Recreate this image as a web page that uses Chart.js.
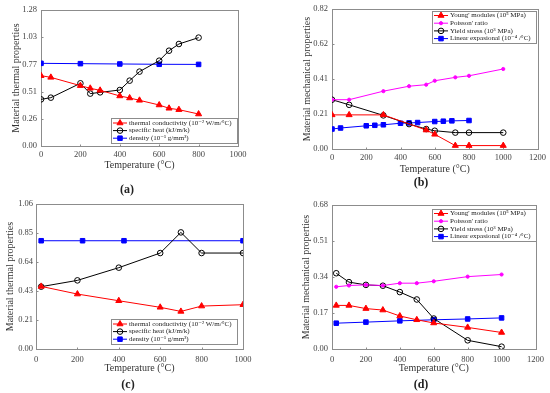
<!DOCTYPE html>
<html>
<head>
<meta charset="utf-8">
<script src="https://cdn.jsdelivr.net/npm/chart.js@4.4.0/dist/chart.umd.min.js"></script>
<style>
  body { margin: 0; background: #fff; width: 550px; height: 393px; position: relative; overflow: hidden; }
  canvas { position: absolute; }
  .tag { position: absolute; font: bold 12px "Liberation Serif", serif; color: #222; transform: translateX(-50%); }
</style>
</head>
<body>
<canvas id="chartA" width="275" height="196" style="left:0;top:0"></canvas>
<canvas id="chartB" width="275" height="196" style="left:275px;top:0"></canvas>
<canvas id="chartC" width="275" height="197" style="left:0;top:196px"></canvas>
<canvas id="chartD" width="275" height="197" style="left:275px;top:196px"></canvas>
<div class="tag" style="left:127px;top:182px">(a)</div>
<div class="tag" style="left:421px;top:175px">(b)</div>
<div class="tag" style="left:128px;top:377px">(c)</div>
<div class="tag" style="left:421px;top:377px">(d)</div>
<script>
const serif = '"Liberation Serif", "DejaVu Serif", serif';

// (a) thermal properties
const aTempTC = [0, 50, 200, 250, 300, 400, 450, 500, 600, 650, 700, 800];
const aConductivity = [0.662, 0.646, 0.568, 0.543, 0.524, 0.471, 0.452, 0.430, 0.386, 0.355, 0.342, 0.301];
const aSpecificHeat = [0.439, 0.455, 0.590, 0.493, 0.505, 0.527, 0.615, 0.700, 0.803, 0.897, 0.960, 1.020];
const aTempDensity = [0, 200, 400, 600, 800];
const aDensity = [0.778, 0.775, 0.772, 0.769, 0.768];
const aYTicks = ['0.00', '0.26', '0.51', '0.77', '1.03', '1.28'];

// (b) mechanical properties
const bTempYoung = [0, 100, 300, 550, 600, 720, 800, 1000];
const bYoung = [0.200, 0.200, 0.200, 0.111, 0.086, 0.020, 0.020, 0.020];
const bTempPY = [0, 100, 300, 450, 550, 600, 720, 800, 1000];
const bPoisson = [0.289, 0.289, 0.339, 0.368, 0.377, 0.400, 0.420, 0.429, 0.469];
const bYield = [0.289, 0.259, 0.197, 0.146, 0.117, 0.107, 0.096, 0.096, 0.096];
const bTempExp = [0, 50, 200, 250, 300, 400, 450, 500, 600, 650, 700, 800];
const bExpansion = [0.117, 0.123, 0.136, 0.139, 0.142, 0.151, 0.153, 0.155, 0.161, 0.163, 0.165, 0.167];
const bYTicks = ['0.00', '0.21', '0.41', '0.62', '0.82'];

// (c) thermal properties
const cTemp = [25, 200, 400, 600, 700, 800, 1000];
const cConductivity = [0.458, 0.402, 0.353, 0.305, 0.275, 0.314, 0.324];
const cSpecificHeat = [0.456, 0.502, 0.595, 0.702, 0.853, 0.702, 0.702];
const cTempDensity = [25, 225, 425, 1000];
const cDensity = [0.792, 0.792, 0.792, 0.792];
const cYTicks = ['0.00', '0.21', '0.43', '0.64', '0.85', '1.06'];

// (d) mechanical properties
const dTemp = [25, 100, 200, 300, 400, 500, 600, 800, 1000];
const dYoung = [0.206, 0.206, 0.191, 0.184, 0.156, 0.138, 0.123, 0.102, 0.078];
const dPoisson = [0.294, 0.300, 0.303, 0.300, 0.311, 0.311, 0.320, 0.342, 0.352];
const dYield = [0.358, 0.316, 0.303, 0.299, 0.269, 0.234, 0.144, 0.041, 0.011];
const dTempExp = [25, 200, 400, 600, 800, 1000];
const dExpansion = [0.122, 0.127, 0.133, 0.138, 0.142, 0.147];
const dYTicks = ['0.00', '0.17', '0.34', '0.51', '0.68'];

const thermalLabels = ['thermal conductivity (10\u207B\u00B2 W/m/\u00B0C)', 'specific heat (kJ/m/k)', 'density (10\u207B\u00B9 g/mm\u00B3)'];
const mechLabels = ['Young\' modules (10\u2075 MPa)', 'Poisson\' ratio', 'Yield stress (10\u00B3 MPa)', 'Linear expasional (10\u207B\u2074 /\u00B0C)'];

const pts = (xs, ys) => xs.map((x, i) => ({ x, y: ys[i] }));

// marker styles
const redTri = { borderColor: '#ff0000', pointBackgroundColor: '#ff0000', pointBorderColor: '#ff0000', pointStyle: 'triangle', pointRadius: 3.5 };
const blackCirc = { borderColor: '#000000', pointBackgroundColor: 'rgba(0,0,0,0)', pointBorderColor: '#000000', pointStyle: 'circle', pointRadius: 2.8 };
const blueSq = { borderColor: '#0000ff', pointBackgroundColor: '#0000ff', pointBorderColor: '#0000ff', pointStyle: 'rect', pointRadius: 3.2 };
const pinkDot = { borderColor: '#ff00ff', pointBackgroundColor: '#ff00ff', pointBorderColor: '#ff00ff', pointStyle: 'circle', pointRadius: 1.6 };

const mk = (label, data, style) => Object.assign({ label, data, borderWidth: 1, pointBorderWidth: 1, fill: false, tension: 0 }, style);

// box + inward ticks
const framePlugin = {
  id: 'frame',
  beforeDatasetsDraw(chart) {
    const { ctx, chartArea: a, scales } = chart;
    ctx.save();
    ctx.strokeStyle = '#8c8c8c';
    ctx.lineWidth = 1;
    const l = Math.round(a.left) + 0.5, t = Math.round(a.top) + 0.5;
    const r = Math.round(a.right) + 0.5, b = Math.round(a.bottom) + 0.5;
    ctx.strokeRect(l, t, r - l, b - t);
    ctx.beginPath();
    scales.x.ticks.forEach(tk => {
      const px = Math.round(scales.x.getPixelForValue(tk.value)) + 0.5;
      ctx.moveTo(px, b); ctx.lineTo(px, b - 2);
    });
    scales.y.ticks.forEach(tk => {
      const py = Math.round(scales.y.getPixelForValue(tk.value)) + 0.5;
      ctx.moveTo(l, py); ctx.lineTo(l + 2, py);
    });
    ctx.stroke();
    ctx.restore();
  }
};

const boxLegend = {
  id: 'boxLegend',
  afterDatasetsDraw(chart, args, o) {
    const { ctx } = chart;
    ctx.save();
    ctx.fillStyle = '#fff';
    ctx.fillRect(o.x, o.y, o.w, o.h);
    ctx.strokeStyle = '#8c8c8c';
    ctx.lineWidth = 1;
    ctx.strokeRect(o.x + 0.5, o.y + 0.5, o.w, o.h);
    ctx.font = '7px ' + serif;
    ctx.textBaseline = 'middle';
    chart.data.datasets.forEach((ds, i) => {
      const y = o.y + o.pad + i * o.row;
      const x0 = o.x + 2, x1 = x0 + 14;
      ctx.strokeStyle = ds.borderColor;
      ctx.beginPath(); ctx.moveTo(x0, y); ctx.lineTo(x1, y); ctx.stroke();
      ctx.fillStyle = ds.pointBackgroundColor;
      ctx.strokeStyle = ds.pointBorderColor;
      Chart.helpers.drawPoint(ctx, { pointStyle: ds.pointStyle, radius: ds.pointRadius, rotation: 0, borderWidth: 1 }, (x0 + x1) / 2, y);
      ctx.fillStyle = '#222';
      ctx.fillText(ds.label, x1 + 2, y);
    });
    ctx.restore();
  }
};

function makeChart(id, c) {
  return new Chart(document.getElementById(id), {
    type: 'line',
    plugins: [framePlugin, boxLegend],
    data: { datasets: c.datasets },
    options: {
      responsive: false,
      animation: false,
      devicePixelRatio: 1,
      layout: { padding: { left: 0, top: c.top, right: c.right, bottom: c.bottom } },
      plugins: {
        legend: { display: false },
        tooltip: { enabled: false },
        boxLegend: c.legend
      },
      scales: {
        x: {
          type: 'linear', min: 0, max: c.xMax,
          grid: { display: false, drawTicks: false },
          border: { display: false },
          ticks: { stepSize: 200, padding: c.xPad, color: '#444', font: { family: serif, size: 8.5 }, maxRotation: 0, callback: v => String(v) },
          title: { display: true, text: 'Temperature (\u00B0C)', color: '#333', padding: 0, font: { family: serif, size: 10 } },
          afterFit: s => { s.height = c.xh; }
        },
        y: {
          type: 'linear', min: 0, max: c.yMax,
          grid: { display: false, drawTicks: false },
          border: { display: false },
          afterBuildTicks: s => { s.ticks = c.yTicks.map((_, i) => ({ value: c.yMax * i / (c.yTicks.length - 1) })); },
          ticks: { padding: c.yPad, color: '#444', font: { family: serif, size: 8.5 }, callback: (v, i) => c.yTicks[i] },
          title: { display: true, text: c.yTitle, color: '#333', padding: { top: c.titlePad, bottom: 0 }, font: { family: serif, size: 10 } },
          afterFit: s => { s.width = c.yw; }
        }
      }
    }
  });
}

makeChart('chartA', {
  xMax: 1000, yMax: 1.28, yTicks: aYTicks, yTitle: 'Material thermal properties',
  top: 10, right: 37, bottom: 25, xh: 25, yw: 41, xPad: 4, yPad: 4, titlePad: 10,
  legend: { x: 111, y: 118, w: 126, h: 25, pad: 5, row: 7.6 },
  datasets: [
    mk(thermalLabels[0], pts(aTempTC, aConductivity), redTri),
    mk(thermalLabels[1], pts(aTempTC, aSpecificHeat), blackCirc),
    mk(thermalLabels[2], pts(aTempDensity, aDensity), blueSq)
  ]
});

makeChart('chartB', {
  xMax: 1200, yMax: 0.82, yTicks: bYTicks, yTitle: 'Material mechanical properties',
  top: 7, right: 12, bottom: 21, xh: 26, yw: 57, xPad: 4, yPad: 4, titlePad: 26,
  legend: { x: 157, y: 11, w: 104, h: 32, pad: 4.5, row: 7.7 },
  datasets: [
    mk(mechLabels[0], pts(bTempYoung, bYoung), redTri),
    mk(mechLabels[1], pts(bTempPY, bPoisson), pinkDot),
    mk(mechLabels[2], pts(bTempPY, bYield), blackCirc),
    mk(mechLabels[3], pts(bTempExp, bExpansion), blueSq)
  ]
});

makeChart('chartC', {
  xMax: 1000, yMax: 1.06, yTicks: cYTicks, yTitle: 'Material thermal properties',
  top: 8, right: 32, bottom: 19, xh: 25, yw: 36, xPad: 6, yPad: 3, titlePad: 4,
  legend: { x: 111, y: 123, w: 126, h: 25, pad: 5, row: 7.6 },
  datasets: [
    mk(thermalLabels[0], pts(cTemp, cConductivity), redTri),
    mk(thermalLabels[1], pts(cTemp, cSpecificHeat), blackCirc),
    mk(thermalLabels[2], pts(cTempDensity, cDensity), blueSq)
  ]
});

makeChart('chartD', {
  xMax: 1200, yMax: 0.68, yTicks: dYTicks, yTitle: 'Material mechanical properties',
  top: 8, right: 12, bottom: 19, xh: 25, yw: 57, xPad: 6, yPad: 4, titlePad: 25,
  legend: { x: 157, y: 13, w: 104, h: 32, pad: 4.5, row: 7.7 },
  datasets: [
    mk(mechLabels[0], pts(dTemp, dYoung), redTri),
    mk(mechLabels[1], pts(dTemp, dPoisson), pinkDot),
    mk(mechLabels[2], pts(dTemp, dYield), blackCirc),
    mk(mechLabels[3], pts(dTempExp, dExpansion), blueSq)
  ]
});
</script>
</body>
</html>
